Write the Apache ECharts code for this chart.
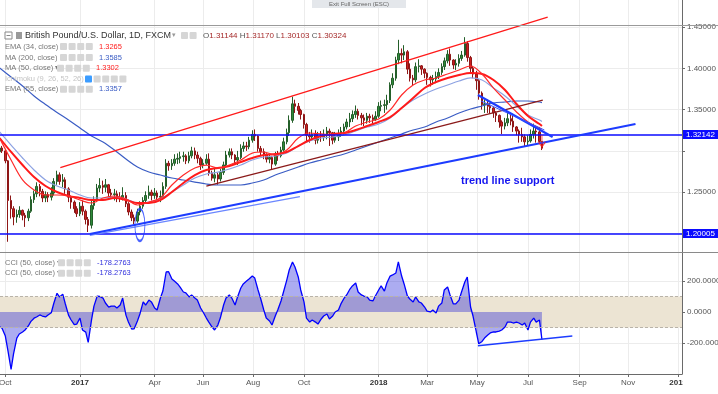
<!DOCTYPE html>
<html>
<head>
<meta charset="utf-8">
<script src="https://cdn.jsdelivr.net/npm/echarts@6.0.0/dist/echarts.min.js"></script>
<style>
html,body{margin:0;padding:0;background:#fff;overflow:hidden}
#chart{width:718px;height:394px}
</style>
</head>
<body>
<div id="chart"></div>
<script>
// ---------- DATA ----------
// candles: [date, open, close, low, high]
const candles2016 = [
 ['2016-09-26',1.2990,1.3035,1.2960,1.3055],['2016-09-29',1.3035,1.3000,1.2975,1.3060],
 ['2016-10-03',1.3000,1.2880,1.2850,1.3010],['2016-10-06',1.2880,1.2400,1.1900,1.2890],
 ['2016-10-10',1.2400,1.2300,1.2180,1.2460],['2016-10-13',1.2300,1.2200,1.2100,1.2330],
 ['2016-10-17',1.2200,1.2230,1.2130,1.2290],['2016-10-20',1.2230,1.2280,1.2190,1.2330],
 ['2016-10-24',1.2280,1.2220,1.2160,1.2290],['2016-10-27',1.2220,1.2190,1.2080,1.2250],
 ['2016-10-31',1.2190,1.2270,1.2150,1.2300],['2016-11-03',1.2270,1.2410,1.2250,1.2450],
 ['2016-11-07',1.2410,1.2480,1.2370,1.2520],['2016-11-10',1.2480,1.2570,1.2440,1.2620],
 ['2016-11-14',1.2570,1.2510,1.2450,1.2600],['2016-11-17',1.2510,1.2430,1.2380,1.2540],
 ['2016-11-21',1.2430,1.2470,1.2380,1.2510],['2016-11-24',1.2470,1.2440,1.2380,1.2500],
 ['2016-11-28',1.2440,1.2490,1.2400,1.2560],['2016-12-01',1.2490,1.2630,1.2460,1.2670],
 ['2016-12-05',1.2630,1.2710,1.2590,1.2760],['2016-12-08',1.2710,1.2630,1.2590,1.2740],
 ['2016-12-12',1.2630,1.2650,1.2560,1.2720],['2016-12-15',1.2650,1.2540,1.2480,1.2680],
 ['2016-12-19',1.2540,1.2440,1.2380,1.2560],['2016-12-22',1.2440,1.2380,1.2300,1.2460],
 ['2016-12-26',1.2380,1.2300,1.2250,1.2400],['2016-12-29',1.2300,1.2240,1.2200,1.2330]
];
const candles2017 = [
 ['2017-01-02',1.2240,1.2330,1.2210,1.2380],['2017-01-05',1.2330,1.2270,1.2220,1.2400],
 ['2017-01-09',1.2270,1.2170,1.2110,1.2290],['2017-01-12',1.2170,1.2100,1.2018,1.2200],
 ['2017-01-16',1.2100,1.2340,1.2060,1.2400],['2017-01-19',1.2340,1.2400,1.2290,1.2450],
 ['2017-01-23',1.2400,1.2550,1.2380,1.2600],['2017-01-26',1.2550,1.2580,1.2500,1.2670],
 ['2017-01-30',1.2580,1.2560,1.2480,1.2640],
 ['2017-02-02',1.2560,1.2590,1.2500,1.2660],['2017-02-06',1.2590,1.2490,1.2430,1.2600],
 ['2017-02-09',1.2490,1.2470,1.2420,1.2540],['2017-02-13',1.2470,1.2480,1.2400,1.2540],
 ['2017-02-16',1.2480,1.2440,1.2380,1.2520],['2017-02-20',1.2440,1.2430,1.2380,1.2500],
 ['2017-02-23',1.2430,1.2460,1.2400,1.2560],['2017-02-27',1.2460,1.2360,1.2320,1.2500],
 ['2017-03-02',1.2360,1.2260,1.2220,1.2380],['2017-03-06',1.2260,1.2190,1.2150,1.2290],
 ['2017-03-09',1.2190,1.2150,1.2110,1.2230],['2017-03-13',1.2150,1.2260,1.2130,1.2300],
 ['2017-03-16',1.2260,1.2330,1.2220,1.2390],['2017-03-20',1.2330,1.2400,1.2300,1.2440],
 ['2017-03-23',1.2400,1.2460,1.2380,1.2510],['2017-03-27',1.2460,1.2500,1.2420,1.2580],
 ['2017-03-30',1.2500,1.2460,1.2400,1.2530],
 ['2017-04-03',1.2460,1.2490,1.2420,1.2550],['2017-04-06',1.2490,1.2440,1.2380,1.2520],
 ['2017-04-10',1.2440,1.2450,1.2380,1.2520],['2017-04-13',1.2450,1.2570,1.2420,1.2620],
 ['2017-04-17',1.2570,1.2850,1.2540,1.2900],['2017-04-20',1.2850,1.2820,1.2760,1.2880],
 ['2017-04-24',1.2820,1.2850,1.2770,1.2900],['2017-04-27',1.2850,1.2900,1.2820,1.2960],
 ['2017-05-01',1.2900,1.2910,1.2840,1.2970],['2017-05-04',1.2910,1.2930,1.2850,1.2990],
 ['2017-05-08',1.2930,1.2940,1.2870,1.2990],['2017-05-11',1.2940,1.2880,1.2840,1.2960],
 ['2017-05-15',1.2880,1.2940,1.2850,1.2990],['2017-05-18',1.2940,1.3000,1.2910,1.3050],
 ['2017-05-22',1.3000,1.2950,1.2900,1.3040],['2017-05-25',1.2950,1.2910,1.2850,1.2990],
 ['2017-05-29',1.2910,1.2830,1.2770,1.2930],
 ['2017-06-01',1.2830,1.2850,1.2790,1.2900],['2017-06-05',1.2850,1.2900,1.2830,1.2960],
 ['2017-06-08',1.2900,1.2730,1.2700,1.2970],['2017-06-12',1.2730,1.2670,1.2640,1.2760],
 ['2017-06-15',1.2670,1.2710,1.2620,1.2780],['2017-06-19',1.2710,1.2660,1.2590,1.2740],
 ['2017-06-22',1.2660,1.2740,1.2630,1.2780],['2017-06-26',1.2740,1.2830,1.2710,1.2870],
 ['2017-06-29',1.2830,1.2950,1.2800,1.3000],
 ['2017-07-03',1.2950,1.2990,1.2920,1.3030],['2017-07-06',1.2990,1.2950,1.2900,1.3030],
 ['2017-07-10',1.2950,1.2890,1.2840,1.2960],['2017-07-13',1.2890,1.2920,1.2830,1.3000],
 ['2017-07-17',1.2920,1.3030,1.2900,1.3080],['2017-07-20',1.3030,1.3060,1.2990,1.3110],
 ['2017-07-24',1.3060,1.3050,1.3000,1.3110],['2017-07-27',1.3050,1.3130,1.3020,1.3170],
 ['2017-07-31',1.3130,1.3200,1.3100,1.3250],
 ['2017-08-03',1.3200,1.3180,1.3120,1.3260],['2017-08-07',1.3180,1.3030,1.2990,1.3190],
 ['2017-08-10',1.3030,1.2990,1.2950,1.3060],['2017-08-14',1.2990,1.2960,1.2900,1.3030],
 ['2017-08-17',1.2960,1.2900,1.2860,1.2970],['2017-08-21',1.2900,1.2920,1.2850,1.2960],
 ['2017-08-24',1.2920,1.2840,1.2780,1.2940],['2017-08-28',1.2840,1.2950,1.2820,1.2990],
 ['2017-08-31',1.2950,1.2940,1.2880,1.3000],
 ['2017-09-04',1.2940,1.3010,1.2920,1.3050],['2017-09-07',1.3010,1.3110,1.2990,1.3160],
 ['2017-09-11',1.3110,1.3220,1.3080,1.3270],['2017-09-14',1.3220,1.3370,1.3180,1.3430],
 ['2017-09-18',1.3370,1.3570,1.3340,1.3657],['2017-09-21',1.3570,1.3540,1.3460,1.3620],
 ['2017-09-25',1.3540,1.3490,1.3440,1.3580],['2017-09-28',1.3490,1.3440,1.3380,1.3510],
 ['2017-10-02',1.3440,1.3320,1.3270,1.3450],['2017-10-05',1.3320,1.3190,1.3120,1.3340],
 ['2017-10-09',1.3190,1.3170,1.3100,1.3230],['2017-10-12',1.3170,1.3200,1.3130,1.3260],
 ['2017-10-16',1.3200,1.3130,1.3080,1.3250],['2017-10-19',1.3130,1.3180,1.3090,1.3230],
 ['2017-10-23',1.3180,1.3170,1.3110,1.3240],['2017-10-26',1.3170,1.3200,1.3120,1.3260],
 ['2017-10-30',1.3200,1.3240,1.3140,1.3290],
 ['2017-11-02',1.3240,1.3220,1.3060,1.3270],['2017-11-06',1.3220,1.3130,1.3080,1.3230],
 ['2017-11-09',1.3130,1.3170,1.3100,1.3230],['2017-11-13',1.3170,1.3210,1.3120,1.3260],
 ['2017-11-16',1.3210,1.3240,1.3170,1.3290],['2017-11-20',1.3240,1.3290,1.3200,1.3330],
 ['2017-11-23',1.3290,1.3350,1.3260,1.3390],['2017-11-27',1.3350,1.3390,1.3290,1.3460],
 ['2017-11-30',1.3390,1.3440,1.3350,1.3490],
 ['2017-12-04',1.3440,1.3480,1.3400,1.3550],['2017-12-07',1.3480,1.3430,1.3380,1.3510],
 ['2017-12-11',1.3430,1.3400,1.3310,1.3460],['2017-12-14',1.3400,1.3370,1.3300,1.3440],
 ['2017-12-18',1.3370,1.3420,1.3330,1.3460],['2017-12-21',1.3420,1.3400,1.3340,1.3450],
 ['2017-12-25',1.3400,1.3380,1.3330,1.3440],['2017-12-28',1.3380,1.3420,1.3360,1.3480]
];
const candles2018 = [
 ['2018-01-01',1.3420,1.3540,1.3400,1.3590],['2018-01-04',1.3540,1.3550,1.3480,1.3610],
 ['2018-01-08',1.3550,1.3560,1.3460,1.3620],['2018-01-11',1.3560,1.3610,1.3500,1.3680],
 ['2018-01-15',1.3610,1.3800,1.3580,1.3830],['2018-01-18',1.3800,1.3880,1.3760,1.3940],
 ['2018-01-22',1.3880,1.4100,1.3850,1.4140],['2018-01-25',1.4100,1.4180,1.4050,1.4345],
 ['2018-01-29',1.4180,1.4160,1.4060,1.4240],
 ['2018-02-01',1.4160,1.4200,1.4100,1.4280],['2018-02-05',1.4200,1.3990,1.3930,1.4220],
 ['2018-02-08',1.3990,1.3880,1.3840,1.4060],['2018-02-12',1.3880,1.3860,1.3790,1.3920],
 ['2018-02-15',1.3860,1.4020,1.3830,1.4070],['2018-02-19',1.4020,1.4030,1.3950,1.4110],
 ['2018-02-22',1.4030,1.3990,1.3920,1.4040],['2018-02-26',1.3990,1.3940,1.3880,1.4000],
 ['2018-03-01',1.3940,1.3890,1.3800,1.3950],['2018-03-05',1.3890,1.3860,1.3780,1.3910],
 ['2018-03-08',1.3860,1.3870,1.3800,1.3920],['2018-03-12',1.3870,1.3900,1.3820,1.3960],
 ['2018-03-15',1.3900,1.3950,1.3870,1.4000],['2018-03-19',1.3950,1.4020,1.3920,1.4060],
 ['2018-03-22',1.4020,1.4090,1.3980,1.4130],['2018-03-26',1.4090,1.4170,1.4060,1.4220],
 ['2018-03-29',1.4170,1.4100,1.4030,1.4240],
 ['2018-04-02',1.4100,1.4040,1.3990,1.4110],['2018-04-05',1.4040,1.4060,1.3980,1.4110],
 ['2018-04-09',1.4060,1.4120,1.4020,1.4170],['2018-04-12',1.4120,1.4160,1.4090,1.4210],
 ['2018-04-16',1.4160,1.4300,1.4140,1.4377],['2018-04-19',1.4300,1.4130,1.4080,1.4330],
 ['2018-04-23',1.4130,1.4000,1.3930,1.4150],['2018-04-26',1.4000,1.3930,1.3880,1.4030],
 ['2018-04-30',1.3930,1.3850,1.3740,1.3970],
 ['2018-05-03',1.3850,1.3700,1.3620,1.3870],['2018-05-07',1.3700,1.3560,1.3500,1.3720],
 ['2018-05-10',1.3560,1.3570,1.3460,1.3620],['2018-05-14',1.3570,1.3540,1.3460,1.3620],
 ['2018-05-17',1.3540,1.3520,1.3450,1.3580],['2018-05-21',1.3520,1.3460,1.3400,1.3530],
 ['2018-05-24',1.3460,1.3430,1.3350,1.3480],['2018-05-28',1.3430,1.3350,1.3280,1.3440],
 ['2018-05-31',1.3350,1.3300,1.3204,1.3370],
 ['2018-06-04',1.3300,1.3340,1.3260,1.3400],['2018-06-07',1.3340,1.3390,1.3300,1.3470],
 ['2018-06-11',1.3390,1.3360,1.3310,1.3440],['2018-06-14',1.3360,1.3290,1.3230,1.3450],
 ['2018-06-18',1.3290,1.3240,1.3190,1.3300],['2018-06-21',1.3240,1.3200,1.3100,1.3260],
 ['2018-06-25',1.3200,1.3170,1.3110,1.3280],['2018-06-28',1.3170,1.3110,1.3050,1.3200],
 ['2018-07-02',1.3110,1.3120,1.3060,1.3190],['2018-07-05',1.3120,1.3200,1.3100,1.3260],
 ['2018-07-09',1.3200,1.3240,1.3150,1.3330],['2018-07-12',1.3240,1.3230,1.3100,1.3280],
 ['2018-07-16',1.3230,1.31144,1.3100,1.3290],['2018-07-19',1.31144,1.30324,1.30103,1.31170]
];
// CCI(50) values, one per candle above
const cci2016 = [-95,-105,-155,-245,-370,-270,-168,-142,-129,-116,-90,-62,-40,-32,-19,-26,-32,-19,-5,55,121,97,115,55,-20,-50,-82,-78];
const cci2017 = [-39,-116,-130,-196,-52,38,103,100,90,
 58,32,38,38,26,45,90,-20,
 -65,-110,-108,-58,-13,65,45,77,65,
 26,13,90,135,258,260,213,200,
 181,161,129,123,97,110,90,77,26,
 0,-39,-65,-97,-116,-84,-39,45,90,
 110,90,45,97,155,181,200,213,232,
 219,142,90,13,-39,-58,-84,-26,13,
 71,129,206,271,323,290,226,142,
 65,-39,-65,-52,-65,-78,-45,-26,-13,
 -45,-26,0,13,52,90,110,148,168,
 187,129,110,103,97,77,71,103];
const cci2018 = [142,168,135,187,232,239,252,323,232,
 181,103,84,65,97,65,58,32,
 6,0,13,-6,38,58,142,161,110,
 52,52,77,129,194,226,32,-26,-129,
 -205,-190,-168,-148,-135,-129,-129,-123,-116,
 -97,-65,-65,-71,-65,-71,-84,-71,
 -116,-65,-39,-65,-52,-178.2763];
// moving averages, sampled every two weeks
const maDates = ['2016-09-26','2016-10-10','2016-10-24','2016-11-07','2016-11-21','2016-12-05','2016-12-19',
 '2017-01-02','2017-01-16','2017-01-30','2017-02-13','2017-02-27','2017-03-13','2017-03-27','2017-04-10','2017-04-24',
 '2017-05-08','2017-05-22','2017-06-05','2017-06-19','2017-07-03','2017-07-17','2017-07-31','2017-08-14','2017-08-28',
 '2017-09-11','2017-09-25','2017-10-09','2017-10-23','2017-11-06','2017-11-20','2017-12-04','2017-12-18',
 '2018-01-01','2018-01-15','2018-01-29','2018-02-12','2018-02-26','2018-03-12','2018-03-26','2018-04-09','2018-04-23',
 '2018-05-07','2018-05-21','2018-06-04','2018-06-18','2018-07-02','2018-07-16','2018-07-19'];
const ema34 = [1.3156,1.2890,1.2648,1.2527,1.2466,1.2466,1.2454,
 1.2405,1.2369,1.2430,1.2454,1.2418,1.2345,1.2381,1.2430,1.2587,1.2708,1.2793,1.2829,1.2793,1.2829,1.2890,1.2974,1.2987,1.2950,1.3011,1.3156,1.3217,1.3205,1.3192,1.3217,1.3301,1.3350,
 1.3386,1.3495,1.3677,1.3798,1.3858,1.3883,1.3931,1.3979,1.4028,1.3931,1.3761,1.3616,1.3471,1.3350,1.3277,1.3265];
const ma50 = [1.3156,1.2987,1.2829,1.2684,1.2575,1.2502,1.2454,
 1.2430,1.2405,1.2405,1.2430,1.2405,1.2369,1.2369,1.2405,1.2502,1.2611,1.2708,1.2769,1.2793,1.2817,1.2866,1.2914,1.2950,1.2962,1.2987,1.3059,1.3132,1.3180,1.3205,1.3217,1.3253,1.3301,
 1.3350,1.3410,1.3519,1.3640,1.3761,1.3834,1.3883,1.3919,1.3943,1.3931,1.3858,1.3737,1.3568,1.3423,1.3326,1.3302];
const ma200 = [1.4004,1.3895,1.3786,1.3665,1.3562,1.3466,1.3374,
 1.3277,1.3180,1.3108,1.3011,1.2902,1.2805,1.2744,1.2708,1.2672,1.2648,1.2623,1.2599,1.2587,1.2587,1.2587,1.2611,1.2648,1.2708,1.2757,1.2805,1.2853,1.2890,1.2926,1.2962,1.3011,1.3059,
 1.3108,1.3156,1.3205,1.3253,1.3289,1.3350,1.3398,1.3459,1.3507,1.3544,1.3580,1.3592,1.3604,1.3604,1.3592,1.3585];
const ema55 = [1.3229,1.3071,1.2914,1.2769,1.2648,1.2575,1.2527,
 1.2466,1.2430,1.2430,1.2442,1.2418,1.2369,1.2381,1.2418,1.2502,1.2587,1.2672,1.2720,1.2744,1.2781,1.2829,1.2890,1.2926,1.2938,1.2974,1.3059,1.3120,1.3156,1.3168,1.3192,1.3241,1.3289,
 1.3326,1.3398,1.3519,1.3616,1.3689,1.3749,1.3798,1.3846,1.3883,1.3858,1.3761,1.3665,1.3544,1.3435,1.3374,1.3357];
// axis ticks
const xTickDates = ['2016-10-03','2017-01-02','2017-04-03','2017-06-01','2017-08-01','2017-10-02','2018-01-01','2018-03-01','2018-05-01','2018-07-02','2018-09-03','2018-11-01','2019-01-01'];
const xTickLabels = ['Oct','2017','Apr','Jun','Aug','Oct','2018','Mar','May','Jul','Sep','Nov','2019'];
const priceTicks = [1.20,1.25,1.30,1.35,1.40,1.45];
const priceLabels = [1.25,1.35,1.40,1.45];
const cciTicks = [-200,0,200];
// drawings
const hLevels = [1.32142, 1.20005];
const lastClose = 1.30324;
const upperChannel = [['2016-12-09',1.2799],['2018-07-26',1.4621]];
const lowerChannel = [['2017-06-05',1.2575],['2018-07-20',1.3616]];
const supportLine = [['2017-01-14',1.1994],['2018-11-10',1.3326]];
const supportLine2 = [['2017-01-14',1.1976],['2017-09-27',1.2446]];
const fallingLine = [['2018-05-02',1.3677],['2018-08-01',1.3168]];
const fallingLine2 = [['2018-05-06',1.3604],['2018-07-22',1.3253]];
const cciTrend = [['2018-05-02',-217],['2018-08-25',-155]];
const circleMark = ['2017-03-16',1.2103];
const arrowMark = ['2018-07-19',1.3120];

// ---------- CHART ----------
const DAY = 864e5;
const t = s => Date.parse(s + 'T00:00:00Z');
const FONT = '"Liberation Sans", Arial, sans-serif';
const GRIDC = '#ececec';
const BLUE = '#0b0bff';
const candles = [...candles2016, ...candles2017, ...candles2018];
const candleData = candles.map(c => [t(c[0]), c[1], c[2], c[3], c[4]]);
const cciVals = [...cci2016, ...cci2017, ...cci2018];
const cciData = cciVals.slice(0, candles.length).map((v, i) => [t(candles[i][0]), v]);
const maData = arr => arr.map((v, i) => [t(maDates[i]), v]);
const pts = arr => arr.map(p => [t(p[0]), p[1]]);
const xMin = t('2017-01-01') - 96.5 * DAY, xMax = t('2017-01-01') + 734.7 * DAY;
const xTicks = xTickDates.map(t);
const xLabel = v => {
  let best = -1, bd = Infinity;
  xTicks.forEach((x, i) => { const d = Math.abs(x - v); if (d < bd) { bd = d; best = i; } });
  if (best < 0 || bd > DAY) return '';
  const s = xTickLabels[best];
  return /^\d{4}$/.test(s) ? '{b|' + s + '}' : s;
};

const chart = echarts.init(document.getElementById('chart'), null, {renderer: 'canvas'});

function drawLine(data, color, width, xi) {
  return {type: 'line', xAxisIndex: xi || 0, yAxisIndex: xi || 0, data: pts(data), showSymbol: false, silent: true,
    lineStyle: {color, width}, z: 6};
}
function maLine(arr, color, width) {
  return {type: 'line', data: maData(arr), showSymbol: false, silent: true, smooth: 0.35,
    lineStyle: {color, width}, z: 4};
}

// legend graphics
const g = [];
function txt(x, y, text, size, fill, extra) {
  g.push({type: 'text', x, y, silent: true, z: 100,
    style: Object.assign({text, fontSize: size, fontFamily: FONT, fill, verticalAlign: 'middle', align: 'left'}, extra || {})});
}
function icons(x, y, n, first) {
  for (let i = 0; i < n; i++) {
    g.push({type: 'rect', silent: true, z: 100, shape: {x: x + i * 8.6, y: y - 3.5, width: 7, height: 7, r: 1},
      style: {fill: (i === 0 && first) ? first : '#d6d6d6'}});
  }
}
g.push({type: 'rect', silent: true, z: 100, shape: {x: 312, y: 0, width: 94, height: 8}, style: {fill: '#e4e7eb'}});
txt(359, 4, 'Exit Full Screen (ESC)', 6, '#666', {align: 'center'});
g.push({type: 'line', silent: true, z: 99, shape: {x1: 0, y1: 25.5, x2: 718, y2: 25.5}, style: {stroke: '#9a9a9a', lineWidth: 1}});
g.push({type: 'line', silent: true, z: 99, shape: {x1: 0, y1: 252.5, x2: 718, y2: 252.5}, style: {stroke: '#8a8a8a', lineWidth: 1}});
g.push({type: 'rect', silent: true, z: 99, shape: {x: 683, y: 376, width: 35, height: 18}, style: {fill: '#fff'}});
g.push({type: 'rect', silent: true, z: 100, shape: {x: 5, y: 32, width: 7, height: 7}, style: {fill: '#fff', stroke: '#888', lineWidth: 1}});
g.push({type: 'line', silent: true, z: 101, shape: {x1: 6.5, y1: 35.5, x2: 10.5, y2: 35.5}, style: {stroke: '#888', lineWidth: 1}});
g.push({type: 'rect', silent: true, z: 100, shape: {x: 16, y: 32, width: 6, height: 7}, style: {fill: '#9a9a9a'}});
txt(25, 35.5, 'British Pound/U.S. Dollar, 1D, FXCM', 9, '#333');
txt(172, 35.5, '▾', 7, '#999');
icons(181, 35.5, 2);
txt(203, 35.5, 'O{v|1.31144} H{v|1.31170} L{v|1.30103} C{v|1.30324}', 8, '#555', {rich: {v: {fill: '#a52a2a', fontSize: 8, fontFamily: FONT}}});
const legendRows = [
  ['EMA (34, close)', '1.3265', '#ff1a1a', 46.5, 60, 99, '#777'],
  ['MA (200, close)', '1.3585', '#3a5cc4', 57.5, 60, 99, '#777'],
  ['MA (50, close)', '1.3302', '#ff1a1a', 68.2, 57, 96, '#777'],
  ['Ichimoku (9, 26, 52, 26)', '', '#bbb', 79, 85, 0, '#c4c4c4'],
  ['EMA (55, close)', '1.3357', '#3a5cc4', 89.3, 60, 99, '#777']
];
legendRows.forEach(r => {
  txt(5, r[3], r[0] + ' ▾', 7.5, r[6]);
  icons(r[4], r[3], r[1] ? 4 : 5, r[1] ? null : '#3b9cff');
  if (r[1]) txt(r[5], r[3], r[1], 7.5, r[2]);
});
[262.7, 273.3].forEach(y => {
  txt(5, y, 'CCI (50, close) ▾', 7.5, '#777');
  icons(58, y, 4);
  txt(97, y, '-178.2763', 7.5, '#3333dd');
});
txt(461, 181, 'trend line support', 11, '#1515f0', {fontWeight: 'bold'});

const option = {
  animation: false,
  backgroundColor: '#ffffff',
  textStyle: {fontFamily: FONT},
  grid: [
    {left: 0, right: 36, top: 0, height: 252, outerBoundsMode: 'none', containLabel: false},
    {left: 0, right: 36, top: 253, height: 121, outerBoundsMode: 'none', containLabel: false}
  ],
  xAxis: [
    {type: 'value', gridIndex: 0, min: xMin, max: xMax,
     axisLine: {show: false}, axisTick: {show: false, customValues: xTicks},
     axisLabel: {show: false},
     splitLine: {show: true, lineStyle: {color: GRIDC, width: 1}}},
    {type: 'value', gridIndex: 1, min: xMin, max: xMax,
     axisLine: {show: true, onZero: false, lineStyle: {color: '#6a6a6a'}},
     axisTick: {show: true, length: 3, customValues: xTicks, lineStyle: {color: '#6a6a6a'}},
     axisLabel: {customValues: xTicks, formatter: xLabel, fontSize: 8, color: '#555', margin: 5,
       showMinLabel: true, showMaxLabel: true,
       rich: {b: {fontWeight: 'bold', fontSize: 8, color: '#333', fontFamily: FONT}}},
     splitLine: {show: true, lineStyle: {color: GRIDC, width: 1}}}
  ],
  yAxis: [
    {type: 'value', gridIndex: 0, position: 'right', min: 1.1776, max: 1.4827,
     axisLine: {show: true, onZero: false, lineStyle: {color: '#6a6a6a'}},
     axisTick: {show: true, length: 3, customValues: priceTicks, lineStyle: {color: '#6a6a6a'}},
     axisLabel: {customValues: priceLabels, formatter: v => v.toFixed(5), fontSize: 8, color: '#555', margin: 5},
     splitLine: {show: true, lineStyle: {color: GRIDC, width: 1}}},
    {type: 'value', gridIndex: 1, position: 'right', min: -400, max: 380.6,
     axisLine: {show: true, onZero: false, lineStyle: {color: '#6a6a6a'}},
     axisTick: {show: true, length: 3, customValues: cciTicks, lineStyle: {color: '#6a6a6a'}},
     axisLabel: {customValues: cciTicks, formatter: v => v.toFixed(4), fontSize: 8, color: '#555', margin: 5},
     splitLine: {show: true, lineStyle: {color: GRIDC, width: 1}}}
  ],
  series: [
    {type: 'line', xAxisIndex: 1, yAxisIndex: 1, data: [], silent: true, z: 1,
     markArea: {silent: true, itemStyle: {color: '#ece4d3'}, data: [[{yAxis: 100}, {yAxis: -100}]]},
     markLine: {silent: true, symbol: 'none', label: {show: false},
       lineStyle: {color: '#b9b3a8', type: [3, 2], width: 1}, data: [{yAxis: 100}, {yAxis: -100}]}},
    {type: 'line', name: 'CCI', xAxisIndex: 1, yAxisIndex: 1, data: cciData, showSymbol: false, silent: true,
     lineStyle: {color: '#0000ff', width: 1.3}, areaStyle: {color: 'rgba(20,20,215,0.5)'}, z: 3},
    drawLine(cciTrend, '#1d3cff', 1.5, 1),
    {type: 'candlestick', name: 'GBPUSD', xAxisIndex: 0, yAxisIndex: 0, data: candleData, encode: {x: 0, y: [1, 2, 3, 4]}, barWidth: 2, z: 3,
     silent: true,
     itemStyle: {color: '#2e8b3a', color0: '#cc2020', borderColor: '#245f2a', borderColor0: '#8e1616', borderWidth: 1},
     markLine: {silent: true, symbol: 'none',
       label: {show: true, position: 'end', distance: 1, color: '#fff', fontSize: 8, fontFamily: FONT, padding: [1, 5, 0, 3]},
       data: [
         {yAxis: hLevels[0], lineStyle: {color: BLUE, width: 1.5, type: 'solid'}, label: {formatter: hLevels[0].toFixed(5), backgroundColor: BLUE}},
         {yAxis: hLevels[1], lineStyle: {color: BLUE, width: 1.5, type: 'solid'}, label: {formatter: hLevels[1].toFixed(5), backgroundColor: BLUE}},
         {yAxis: lastClose, lineStyle: {opacity: 0}, label: {formatter: lastClose.toFixed(5), backgroundColor: '#ff1a1a'}}
       ]}},
    maLine(ma200, '#3a5cc4', 1.2),
    maLine(ema55, '#8da2e2', 1.2),
    maLine(ma50, '#ff1a1a', 2),
    maLine(ema34, '#ff2a2a', 1.2),
    drawLine(upperChannel, '#ff1a1a', 1.3),
    drawLine(lowerChannel, '#8b1a1a', 1.3),
    drawLine(supportLine2, '#6a86ff', 1.3),
    drawLine(supportLine, '#1d3cff', 2.2),
    drawLine(fallingLine, '#1d3cff', 2.2),
    drawLine(fallingLine2, '#3552ff', 1),
    {type: 'scatter', data: [[t(circleMark[0]), circleMark[1]]], symbol: 'circle', symbolSize: [10, 32], silent: true, z: 7,
     itemStyle: {color: 'rgba(0,0,0,0)', borderColor: '#1d3cff', borderWidth: 1.5}},
    {type: 'scatter', data: [[t(arrowMark[0]), arrowMark[1]]], symbol: 'path://M5,0 L5,14 M0,8 L5,14 L10,8', symbolSize: [7, 12],
     silent: true, z: 7, itemStyle: {color: 'none', borderColor: '#ff1a1a', borderWidth: 1.2}}
  ],
  graphic: g
};
chart.setOption(option);
</script>
</body>
</html>
